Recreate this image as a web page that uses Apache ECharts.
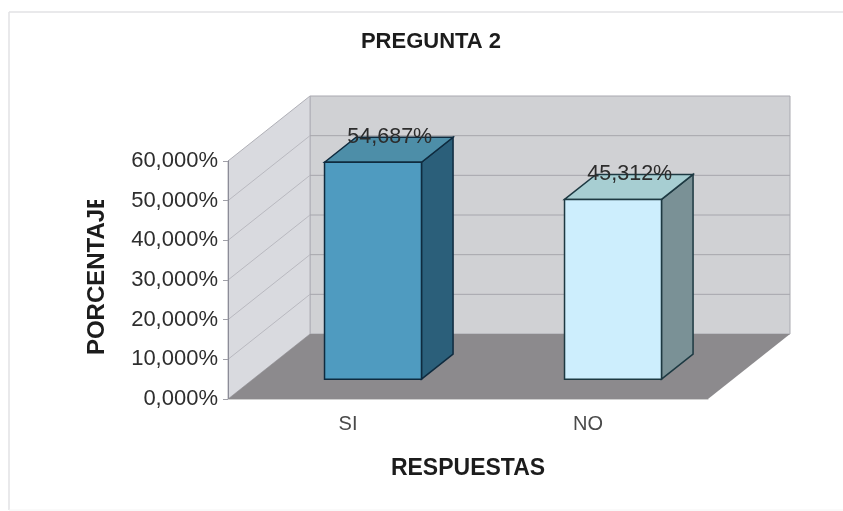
<!DOCTYPE html>
<html>
<head>
<meta charset="utf-8">
<style>html,body{margin:0;padding:0;background:#fff}#chart{width:843px;height:511px}</style>
<script src="https://cdn.jsdelivr.net/npm/echarts@6/dist/echarts.min.js"></script>
</head>
<body>
<div id="chart"></div>
<script>
// Survey results for question 2
const categories = ['SI', 'NO'];
const percentages = [54.687, 45.312];
const gridValues = [0, 10, 20, 30, 40, 50, 60];
const chartTitle = 'PREGUNTA 2';
const xAxisName = 'RESPUESTAS';
const yAxisName = 'PORCENTAJE';

// Oblique projection used for the pseudo-3D box and columns
const DEPTH_X = 82, DEPTH_Y = -65;
const BAR_WIDTH_RATIO = 0.404;
const BAR_FRONT = 0.305;  // where the column front sits inside the box depth
const BAR_DEPTH = 0.385;  // column depth as a share of the box depth

const barPalette = [
  { front: '#4f9bc0', top: '#4d8ea8', side: '#2b5f7a', line: '#0f2b3f' },
  { front: '#cdeefd', top: '#a7ced2', side: '#7a9196', line: '#1d3942' }
];

const FONT = '"Liberation Sans", Arial, sans-serif';

function poly(points, fill, stroke, lineWidth) {
  return {
    type: 'polygon',
    shape: { points },
    style: { fill, stroke: stroke || null, lineWidth: lineWidth || 0 }
  };
}

function renderBox(params, api) {
  const band = api.size([1, 0])[0];
  const x0 = api.coord([0, 0])[0] - band / 2;
  const x1 = api.coord([categories.length - 1, 0])[0] + band / 2;
  const yLo = api.coord([0, gridValues[0]])[1];
  const yHi = api.coord([0, gridValues[gridValues.length - 1]])[1];
  const children = [
    // Back wall
    poly([[x0 + DEPTH_X, yHi + DEPTH_Y], [x1 + DEPTH_X, yHi + DEPTH_Y],
          [x1 + DEPTH_X, yLo + DEPTH_Y], [x0 + DEPTH_X, yLo + DEPTH_Y]], '#d0d1d4', '#a9a9b0', 1),
    // Side wall
    poly([[x0, yHi], [x0 + DEPTH_X, yHi + DEPTH_Y],
          [x0 + DEPTH_X, yLo + DEPTH_Y], [x0, yLo]], '#d9dadf', '#b0b0b7', 1)
  ];
  gridValues.slice(1, -1).forEach(v => {
    const y = api.coord([0, v])[1];
    children.push(
      { type: 'line', shape: { x1: x0, y1: y, x2: x0 + DEPTH_X, y2: y + DEPTH_Y }, style: { stroke: '#b9b9c0', lineWidth: 1 } },
      { type: 'line', shape: { x1: x0 + DEPTH_X, y1: y + DEPTH_Y, x2: x1 + DEPTH_X, y2: y + DEPTH_Y }, style: { stroke: '#a6a6ad', lineWidth: 1 } }
    );
  });
  // Floor
  children.push(poly([[x0, yLo], [x1, yLo], [x1 + DEPTH_X, yLo + DEPTH_Y], [x0 + DEPTH_X, yLo + DEPTH_Y]], '#8c8a8d'));
  return { type: 'group', children };
}

function renderColumn(params, api) {
  const cat = api.value(0), val = api.value(1);
  const base = api.coord([cat, 0]);
  const top = api.coord([cat, val]);
  const w = api.size([1, 0])[0] * BAR_WIDTH_RATIO;
  const c = barPalette[params.dataIndex];
  const l = base[0] + DEPTH_X * BAR_FRONT - w / 2;
  const r = l + w;
  const yb = base[1] + DEPTH_Y * BAR_FRONT;
  const yt = top[1] + DEPTH_Y * BAR_FRONT;
  const dx = DEPTH_X * BAR_DEPTH, dy = DEPTH_Y * BAR_DEPTH;
  const text = val.toFixed(3).replace('.', ',') + '%';
  return {
    type: 'group',
    children: [
      poly([[r, yt], [r + dx, yt + dy], [r + dx, yb + dy], [r, yb]], c.side, c.line, 1.5),
      poly([[l, yt], [l + dx, yt + dy], [r + dx, yt + dy], [r, yt]], c.top, c.line, 1.5),
      poly([[l, yt], [r, yt], [r, yb], [l, yb]], c.front, c.line, 1.5),
      {
        type: 'text',
        x: (l + r + dx) / 2 + 1,
        y: yt + dy,
        style: { text, fill: '#2c2c2c', font: '21.5px ' + FONT, align: 'center', verticalAlign: 'middle' }
      }
    ]
  };
}

const chart = echarts.init(document.getElementById('chart'), null, { renderer: 'canvas' });
chart.setOption({
  animation: false,
  backgroundColor: '#fff',
  title: {
    text: chartTitle,
    left: 426,
    top: 26,
    textAlign: 'center',
    textStyle: { fontFamily: FONT, fontSize: 22, fontWeight: 'bold', color: '#1c1c1c' }
  },
  grid: { left: 228, top: 161, width: 480, height: 238 },
  xAxis: {
    type: 'category',
    data: categories,
    name: xAxisName,
    nameLocation: 'middle',
    nameGap: 58,
    nameTextStyle: { fontFamily: FONT, fontSize: 23, fontWeight: 'bold', color: '#1c1c1c' },
    z: 5,
    axisLine: { lineStyle: { color: '#cfcfcf' } },
    axisTick: { show: false },
    axisLabel: { margin: 15, fontFamily: FONT, fontSize: 20, color: '#4a4a4a' }
  },
  yAxis: {
    type: 'value',
    min: 0,
    max: 60,
    interval: 10,
    name: yAxisName,
    nameLocation: 'middle',
    nameGap: 119,
    nameTextStyle: { fontFamily: FONT, fontSize: 24, fontWeight: 'bold', color: '#1c1c1c', padding: [0, 0, 0, 12] },
    z: 5,
    splitLine: { show: false },
    axisLine: { show: true, lineStyle: { color: '#8c8c98' } },
    axisTick: { show: true, length: 5, lineStyle: { color: '#a0a0a8' } },
    axisLabel: {
      margin: 10,
      fontFamily: FONT,
      fontSize: 22,
      color: '#2e2e2e',
      formatter: v => v.toFixed(3).replace('.', ',') + '%'
    }
  },
  graphic: [
    // Outer chart frame: top and left edges, with a fainter bottom edge
    { type: 'line', z: -1, shape: { x1: 9, y1: 12, x2: 843, y2: 12 }, style: { stroke: '#e2e2e4', lineWidth: 1.5 } },
    { type: 'line', z: -1, shape: { x1: 9, y1: 12, x2: 9, y2: 510 }, style: { stroke: '#e2e2e4', lineWidth: 1.5 } },
    { type: 'line', z: -1, shape: { x1: 9, y1: 510, x2: 843, y2: 510 }, style: { stroke: '#f4f4f4', lineWidth: 1 } },
    // The vertical axis title is cut off at the end of its box
    { type: 'rect', z: 10, shape: { x: 80, y: 170, width: 34, height: 30 }, style: { fill: '#fff' } }
  ],
  series: [
    {
      type: 'custom',
      z: 1,
      renderItem: renderBox,
      encode: { x: 0, y: 1 },
      data: [[0, 0]],
      silent: true
    },
    {
      type: 'custom',
      z: 3,
      renderItem: renderColumn,
      encode: { x: 0, y: 1 },
      data: percentages.map((v, i) => [i, v])
    }
  ]
});
</script>
</body>
</html>
